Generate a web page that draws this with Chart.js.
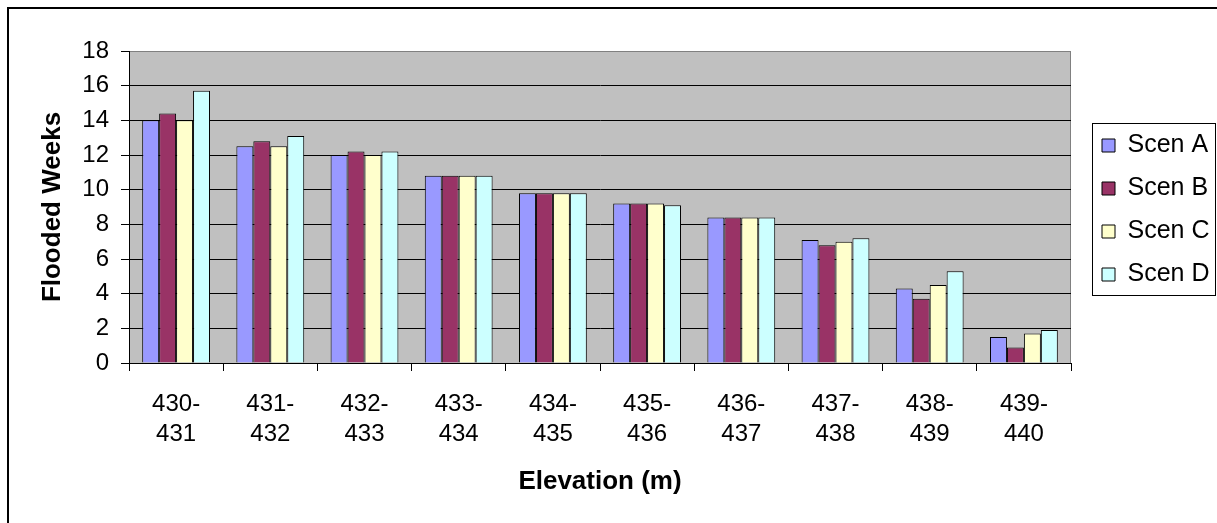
<!DOCTYPE html>
<html>
<head>
<meta charset="utf-8">
<script src="https://cdn.jsdelivr.net/npm/chart.js@4.4.1/dist/chart.umd.min.js"></script>
<style>
  html, body { margin: 0; padding: 0; background: #fff; }
  #wrap { position: absolute; left: 0; top: 0; width: 1217px; height: 523px; }
</style>
</head>
<body>
<div id="wrap"><canvas id="floodChart"></canvas></div>
<script>
// data
const elevations = [
  ['430-', '431'], ['431-', '432'], ['432-', '433'], ['433-', '434'], ['434-', '435'],
  ['435-', '436'], ['436-', '437'], ['437-', '438'], ['438-', '439'], ['439-', '440']
];
const scenA = [14.0, 12.5, 12.0, 10.8, 9.8, 9.2, 8.4, 7.1, 4.3, 1.5];
const scenB = [14.4, 12.8, 12.2, 10.8, 9.8, 9.2, 8.4, 6.8, 3.7, 0.9];
const scenC = [14.0, 12.5, 12.0, 10.8, 9.8, 9.2, 8.4, 7.0, 4.5, 1.7];
const scenD = [15.7, 13.1, 12.2, 10.8, 9.8, 9.1, 8.4, 7.2, 5.3, 1.9];
const seriesNames = ['Scen A', 'Scen B', 'Scen C', 'Scen D'];
const seriesColors = ['#9999FF', '#993366', '#FFFFCC', '#CCFFFF'];

const FONT = '"Liberation Sans", Arial, sans-serif';
const LEGEND_PAD = 18;

// gray plot background, frame round the picture, box round the legend
const decorations = {
  id: 'decorations',
  afterInit(chart) {
    const legend = chart.legend;
    const origFit = legend.fit;
    legend.fit = function () {
      origFit.call(this);
      this.width = 146;
    };
  },
  afterLayout(chart) {
    // legend sits beside the plot, roughly centred on it
    const lg = chart.legend;
    const a = chart.chartArea;
    lg.left += 13;
    lg.right += 13;
    lg.top = a.top + 3;
    lg.bottom = a.bottom + 3;
    lg.height = a.bottom - a.top;
  },
  beforeDraw(chart) {
    const { ctx, chartArea: a } = chart;
    ctx.save();
    ctx.fillStyle = '#fff';
    ctx.fillRect(0, 0, chart.width, chart.height);
    ctx.fillStyle = '#C0C0C0';
    ctx.fillRect(a.left, a.top, a.right - a.left, a.bottom - a.top);
    ctx.strokeStyle = '#808080';
    ctx.lineWidth = 1;
    ctx.strokeRect(a.left + 0.5, a.top + 0.5, a.right - a.left - 1, a.bottom - a.top);
    ctx.restore();
  },
  afterDraw(chart) {
    const { ctx } = chart;
    const lg = chart.legend;
    ctx.save();
    ctx.fillStyle = '#000';
    ctx.fillRect(7, 7, chart.width, 2);
    ctx.fillRect(7, 7, 2, chart.height);
    if (lg.columnSizes && lg.columnSizes.length) {
      const colH = lg.columnSizes[0].height;
      const start = (lg.top + LEGEND_PAD + lg.bottom - colH) / 2;
      const top = start - 10;
      const bottom = start + colH - LEGEND_PAD + 8;
      ctx.strokeStyle = '#000';
      ctx.lineWidth = 1;
      ctx.strokeRect(1092.5, Math.round(top) + 0.5, 123, Math.round(bottom - top));
    }
    ctx.restore();
  }
};

const ctx = document.getElementById('floodChart');
new Chart(ctx, {
  type: 'bar',
  data: {
    labels: elevations,
    datasets: [scenA, scenB, scenC, scenD].map((vals, i) => ({
      label: seriesNames[i],
      data: vals,
      backgroundColor: seriesColors[i],
      borderColor: '#000',
      borderWidth: 1,
      categoryPercentage: 0.72,
      barPercentage: 1.0
    }))
  },
  options: {
    responsive: true,
    maintainAspectRatio: false,
    animation: false,
    layout: { padding: { left: 0, right: 0, top: 51, bottom: 0 } },
    plugins: {
      tooltip: { enabled: false },
      legend: {
        position: 'right',
        align: 'center',
        labels: {
          color: '#000',
          font: { family: FONT, size: 25 },
          boxWidth: 13,
          boxHeight: 13,
          padding: LEGEND_PAD
        }
      }
    },
    scales: {
      x: {
        afterFit: (scale) => { scale.height = 160; },
        grid: {
          drawOnChartArea: false,
          drawTicks: true,
          tickLength: 8,
          color: '#000',
          tickColor: '#000'
        },
        border: { color: '#000', width: 1 },
        ticks: {
          color: '#000',
          font: { family: FONT, size: 24, lineHeight: 1.25 },
          padding: 18,
          maxRotation: 0,
          autoSkip: false
        },
        title: {
          display: true,
          text: 'Elevation (m)',
          color: '#000',
          font: { family: FONT, size: 26, weight: 'bold', lineHeight: 1.2 },
          padding: { top: 0, bottom: 26 }
        }
      },
      y: {
        min: 0,
        max: 18,
        afterFit: (scale) => { scale.width = 129; },
        grid: {
          drawTicks: true,
          tickLength: 8,
          color: (c) => (c.tick && c.tick.value === 18 ? '#808080' : '#000'),
          tickColor: '#000'
        },
        border: { color: '#000', width: 1 },
        ticks: {
          stepSize: 2,
          color: '#000',
          font: { family: FONT, size: 24 },
          padding: 12
        },
        title: {
          display: true,
          text: 'Flooded Weeks',
          color: '#000',
          font: { family: FONT, size: 26, weight: 'bold', lineHeight: 1.2 },
          padding: { top: 37, bottom: 0 }
        }
      }
    }
  },
  plugins: [decorations]
});
</script>
</body>
</html>
